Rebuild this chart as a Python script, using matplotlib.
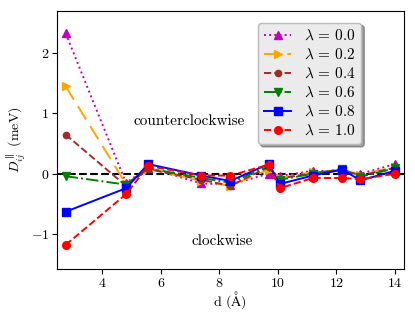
import matplotlib
matplotlib.use("Agg")
import matplotlib.pyplot as plt

plt.rcParams['font.family'] = 'serif'
plt.rcParams['font.serif'] = ['cmr10']
plt.rcParams['mathtext.fontset'] = 'cm'
plt.rcParams['axes.formatter.use_mathtext'] = True

d = [2.75, 4.81, 5.57, 7.39, 8.37, 9.68, 10.06, 11.19, 12.20, 12.82, 14.00]

lam_00 = [2.33, -0.15, 0.10, -0.16, -0.18, 0.00, -0.04, 0.05, 0.04, 0.00, 0.16]
lam_02 = [1.45, -0.17, 0.08, -0.12, -0.20, 0.07, -0.07, 0.03, 0.05, -0.02, 0.12]
lam_04 = [0.65, -0.20, 0.08, -0.10, -0.20, 0.11, -0.08, 0.01, 0.07, -0.03, 0.10]
lam_06 = [-0.04, -0.18, 0.09, -0.07, -0.15, 0.12, -0.10, 0.00, 0.08, -0.05, 0.09]
lam_08 = [-0.63, -0.24, 0.16, -0.03, -0.12, 0.16, -0.17, -0.03, 0.07, -0.11, 0.05]
lam_10 = [-1.18, -0.34, 0.13, -0.03, -0.03, 0.15, -0.24, -0.07, -0.07, -0.09, 0.00]

series = [lam_00, lam_02, lam_04, lam_06, lam_08, lam_10]
labels = ['0.0', '0.2', '0.4', '0.6', '0.8', '1.0']
colors = ['m', 'orange', 'brown', 'g', 'b', 'r']
markers = ['^', '>', 'o', 'v', 's', 'o']
styles = [':', (0, (8, 4)), '--', '-.', '-', '--']
msizes = [5.5, 5.5, 4.5, 5.5, 5.5, 5.5]

fig = plt.figure(figsize=(4.15, 3.15), dpi=100)
ax = fig.add_axes([0.137, 0.146, 0.836, 0.819])

ax.axhline(0, color='k', ls='--', lw=1.5, zorder=1)
for y, lab, c, m, ls, ms in zip(series, labels, colors, markers, styles, msizes):
    ax.plot(d, y, color=c, marker=m, ls=ls, lw=1.4, ms=ms,
            label=r'$\lambda\,=\,%s$' % lab)

ax.text(6.97, 0.88, 'counterclockwise', ha='center', va='center', fontsize=11)
ax.text(8.1, -1.12, 'clockwise', ha='center', va='center', fontsize=11)

ax.set_xlim(2.45, 14.3)
ax.set_ylim(-1.58, 2.7)
ax.set_xticks([4, 6, 8, 10, 12, 14])
ax.set_yticks([-1, 0, 1, 2])
ax.tick_params(labelsize=10, pad=2)
ax.set_xlabel(r'd ($\mathrm{\AA}$)', fontsize=10, labelpad=0)
ax.set_ylabel(r'$D_{ij}^{\parallel}$ (meV)', fontsize=10, labelpad=2)

leg = ax.legend(loc='upper right', bbox_to_anchor=(0.9, 0.985), fontsize=11,
                shadow=True, fancybox=True, handlelength=1.8, labelspacing=0.3,
                borderpad=0.4)
leg.get_frame().set_facecolor('#ebebeb')
leg.get_frame().set_edgecolor('#bbbbbb')

fig.savefig('out.png', dpi=100)
